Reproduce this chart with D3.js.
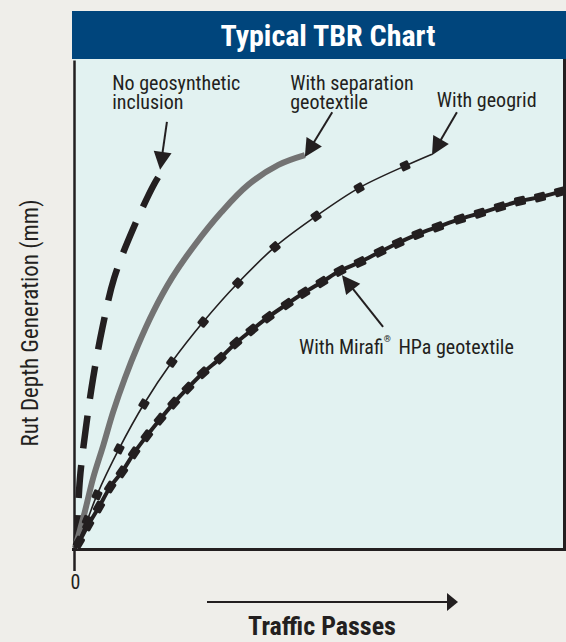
<!DOCTYPE html>
<html>
<head>
<meta charset="utf-8">
<script src="https://cdn.jsdelivr.net/npm/d3@7"></script>
<style>
  html, body { margin: 0; padding: 0; background: #efeeea; }
  svg { display: block; }
  text { font-family: "Liberation Sans Narrow", "Arial Narrow", "Roboto Condensed", sans-serif; fill: #231f20; }
</style>
</head>
<body>
<svg id="chart" width="566" height="642"></svg>
<script>
// ---- data (x: traffic passes, relative 0-100; y: rut depth, relative 0-100) ----
const noGeoX   = [0.3, 1.0, 2.2, 3.7, 5.6, 8.0, 11.8, 16.2, 18.0];
const noGeoY   = [0, 14.1, 24.4, 34.8, 45.1, 55.3, 65.2, 74.6, 77.5];

const sepX     = [0, 2.0, 3.7, 5.8, 7.8, 10.2, 12.9, 16.0, 19.8, 24.5, 30.0, 35.4, 41.6, 47.0];
const sepY     = [0, 7.4, 14.3, 21.1, 27.9, 34.8, 41.6, 48.4, 55.3, 62.1, 68.9, 74.4, 78.5, 80.5];

const gridX    = [0, 2.5, 4.5, 9.0, 14.1, 19.8, 26.2, 33.3, 40.9, 49.3, 58.1, 67.5, 73.0];
const gridY    = [0, 5.7, 10.9, 20.3, 29.5, 38.1, 46.3, 54.3, 61.7, 68.0, 73.8, 78.3, 80.7];

const hpaX     = [0, 0.8, 2.7, 4.9, 7.2, 9.6, 12.1, 14.7, 17.4, 20.2, 23.1, 26.2, 29.7, 32.9, 36.2, 39.5,
                  43.4, 46.8, 50.5, 54.2, 58.3, 62.4, 66.1, 70.1, 74.2, 78.7, 82.8, 86.9, 91.0, 95.1, 99.2, 100];
const hpaY     = [0, 1.2, 4.7, 8.4, 12.5, 15.6, 19.5, 23.0, 26.4, 29.7, 32.8, 35.9, 38.9, 42.0, 44.7, 47.3,
                  50.0, 52.3, 54.5, 56.8, 58.6, 60.7, 62.5, 64.3, 65.8, 67.4, 68.6, 69.9, 71.1, 71.9, 73.0, 73.2];

// annotation labels (lines of text), anchor positions in data units
const labelLines = [
  ["No geosynthetic", "inclusion"],
  ["With separation", "geotextile"],
  ["With geogrid"],
  ["With Mirafi", "HPa geotextile"]
];
const labelX = [7.6, 44.0, 74.0, 45.8];
const labelY = [93.9, 93.9, 90.4, 39.8];

// annotation arrows: tail and tip, data units
const arrowTailX = [18.8, 52.6, 78.1, 63.0];
const arrowTailY = [87.3, 89.3, 89.3, 45.3];
const arrowTipX  = [17.4, 47.0, 73.0, 54.6];
const arrowTipY  = [77.5, 80.1, 80.5, 55.9];

const titleText = "Typical TBR Chart";
const xTitle = "Traffic Passes";
const yTitle = "Rut Depth Generation (mm)";
const xTickLabels = ["0"];
const xTickValues = [0];

// ---- layout ----
const W = 566, H = 642;
const svg = d3.select("#chart");
const x = d3.scaleLinear().domain([0, 100]).range([75, 564]);
const y = d3.scaleLinear().domain([0, 100]).range([548, 60]);

svg.append("rect").attr("width", W).attr("height", H).attr("fill", "#efeeea");
// plot panel
svg.append("rect").attr("x", 73).attr("y", 59).attr("width", 493).attr("height", 490).attr("fill", "#e2f2f1");
// title bar
svg.append("rect").attr("x", 72).attr("y", 11).attr("width", 494).attr("height", 48).attr("fill", "#00457c");
svg.append("text").attr("x", 328).attr("y", 46).attr("text-anchor", "middle")
  .style("font-size", "30px").style("font-weight", "bold").style("fill", "#ffffff").text(titleText);

// borders / axes
const frame = svg.append("g").attr("stroke", "#231f20").attr("fill", "none");
frame.append("line").attr("x1", 564.5).attr("x2", 564.5).attr("y1", 59).attr("y2", 551).attr("stroke-width", 3);
frame.append("line").attr("x1", 72).attr("x2", 566).attr("y1", y(0) + 1.5).attr("y2", y(0) + 1.5).attr("stroke-width", 3);

const xAxis = d3.axisBottom(x).tickValues(xTickValues).tickFormat((d, i) => xTickLabels[i]).tickSize(22).tickPadding(4);
const gx = svg.append("g").attr("transform", `translate(0,${y(0) + 1})`).call(xAxis);
gx.select(".domain").remove();
gx.selectAll(".tick line").attr("stroke", "#231f20").attr("stroke-width", 2.5).attr("transform", "translate(-1,0)");
gx.selectAll(".tick text").style("font-size", "20px").style("fill", "#231f20").attr("font-family", null);

const yAxis = d3.axisLeft(y).tickValues([]).tickSizeOuter(0);
const gy = svg.append("g").attr("transform", `translate(${x(0) - 1},0)`).call(yAxis);
gy.select(".domain").attr("stroke", "#231f20").attr("stroke-width", 2.5);

// ---- curves ----
const line = d3.line().x(d => x(d[0])).y(d => y(d[1])).curve(d3.curveCatmullRom.alpha(0.5));
const zip = (a, b) => a.map((v, i) => [v, b[i]]);

const curves = svg.append("g").attr("fill", "none");
curves.append("path").datum(zip(noGeoX, noGeoY)).attr("d", line)
  .attr("stroke", "#231f20").attr("stroke-width", 6.5).attr("stroke-dasharray", "33,17");
curves.append("path").datum(zip(sepX, sepY)).attr("d", line)
  .attr("stroke", "#737373").attr("stroke-width", 6);
curves.append("path").datum(zip(gridX, gridY)).attr("d", line)
  .attr("stroke", "#231f20").attr("stroke-width", 1.6);
curves.append("path").datum(zip(hpaX, hpaY)).attr("d", line)
  .attr("stroke", "#231f20").attr("stroke-width", 4);

// markers oriented along the curve
function markers(xs, ys, w, h, skipFirst, skipLast) {
  const pts = zip(xs, ys);
  const g = svg.append("g").attr("fill", "#231f20");
  pts.forEach((p, i) => {
    if ((skipFirst && i === 0) || (skipLast && i === pts.length - 1)) return;
    const a = pts[Math.max(0, i - 1)], b = pts[Math.min(pts.length - 1, i + 1)];
    const ang = Math.atan2(y(b[1]) - y(a[1]), x(b[0]) - x(a[0])) * 180 / Math.PI;
    g.append("rect").attr("x", -w / 2).attr("y", -h / 2).attr("width", w).attr("height", h)
      .attr("rx", 1.5)
      .attr("transform", `translate(${x(p[0])},${y(p[1])}) rotate(${ang})`);
  });
}
markers(gridX, gridY, 9, 9, true, true);
markers(hpaX, hpaY, 11, 9, true, true);

// ---- annotations ----
const ann = svg.append("g");
labelLines.forEach((lines, i) => {
  const t = ann.append("text").attr("x", x(labelX[i])).attr("y", y(labelY[i])).style("font-size", "20px");
  if (i === 3) {
    t.append("tspan").text(lines[0]);
    t.append("tspan").text("\u00AE").style("font-size", "9px").attr("dy", -12);
    t.append("tspan").text(" " + lines[1]).attr("dy", 12).attr("dx", 3);
  } else {
    lines.forEach((s, j) => {
      t.append("tspan").attr("x", x(labelX[i])).attr("dy", j === 0 ? 0 : 19.5).text(s);
    });
  }
});

arrowTailX.forEach((_, i) => {
  const x0 = x(arrowTailX[i]), y0 = y(arrowTailY[i]);
  const x1 = x(arrowTipX[i]), y1 = y(arrowTipY[i]);
  const L = Math.hypot(x1 - x0, y1 - y0), ux = (x1 - x0) / L, uy = (y1 - y0) / L;
  const len = 18, hw = 9;
  const bx = x1 - ux * len, by = y1 - uy * len;
  ann.append("line").attr("x1", x0).attr("y1", y0).attr("x2", bx + ux * 2).attr("y2", by + uy * 2)
    .attr("stroke", "#231f20").attr("stroke-width", 2);
  ann.append("path")
    .attr("d", `M${x1},${y1}L${bx - uy * hw},${by + ux * hw}L${bx + uy * hw},${by - ux * hw}Z`)
    .attr("fill", "#231f20");
});

// ---- axis titles ----
svg.append("text").attr("transform", "translate(38,323) rotate(-90)").attr("text-anchor", "middle")
  .style("font-size", "23px").text(yTitle);

const arrowY = 602;
svg.append("line").attr("x1", 207).attr("x2", 449).attr("y1", arrowY).attr("y2", arrowY)
  .attr("stroke", "#231f20").attr("stroke-width", 2.2);
svg.append("path").attr("d", `M458,${arrowY}L447,${arrowY - 9}L447,${arrowY + 9}Z`).attr("fill", "#231f20");
svg.append("text").attr("x", 322).attr("y", 635).attr("text-anchor", "middle")
  .style("font-size", "26px").style("font-weight", "bold").text(xTitle);
</script>
</body>
</html>
